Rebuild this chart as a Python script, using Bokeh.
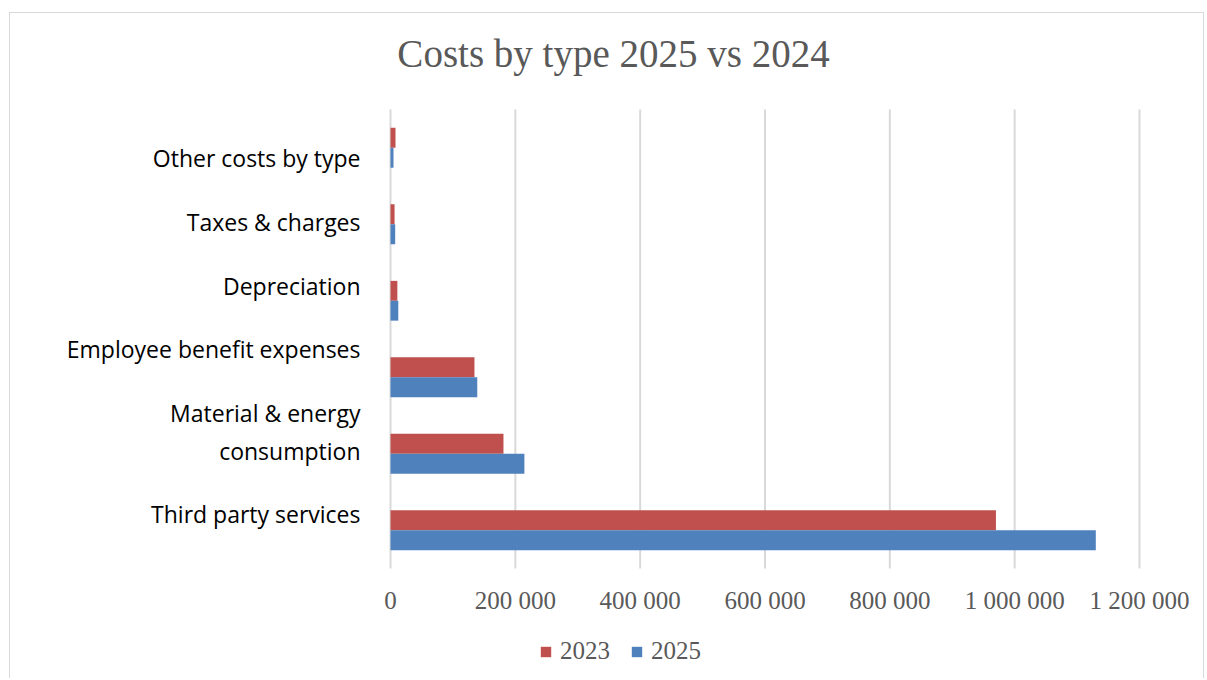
from bokeh.plotting import figure
from bokeh.models import (ColumnDataSource, Range1d, Legend, LegendItem, Label)
from bokeh.core.properties import value
from bokeh.embed import file_html
from bokeh.resources import INLINE

# data (bottom to top)
categories = ["Third party services", "Material & energy consumption", "Employee benefit expenses",
              "Depreciation", "Taxes & charges", "Other costs by type"]
display_labels = ["Third party services", "Material & energy\nconsumption", "Employee benefit expenses",
                  "Depreciation", "Taxes & charges", "Other costs by type"]
values_2023 = [970000, 181000, 134500, 11000, 6500, 8000]
values_2025 = [1130000, 214500, 139000, 12500, 7500, 4800]
series_names = ["2023", "2025"]
tick_values = [0, 200000, 400000, 600000, 800000, 1000000, 1200000]
tick_labels = ["0", "200 000", "400 000", "600 000", "800 000", "1 000 000", "1 200 000"]
chart_title = "Costs by type 2025 vs 2024"

# styling / layout (pixels)
RED = "#C0504D"
BLUE = "#4F81BD"
GRID = "#D9D9D9"
GREY_TEXT = "#595959"
CANVAS_W, CANVAS_H = 1195, 666
PLOT_L, PLOT_R = 380, 1129          # plot area, relative to canvas
PLOT_T, PLOT_B = 96, 555
X_MAX = 1200000
label_offsets_px = [16, 22, 28, 15, 2, -10]  # visual nudge of category labels
BAR_H = 0.26

n = len(categories)
px_per_x = (PLOT_R - PLOT_L) / X_MAX
px_per_y = (PLOT_B - PLOT_T) / n
x_start = -PLOT_L / px_per_x
x_end = X_MAX + (CANVAS_W - PLOT_R) / px_per_x
y_start = -(CANVAS_H - PLOT_B) / px_per_y
y_end = n + PLOT_T / px_per_y

centers = [i + 0.5 for i in range(n)]
src = ColumnDataSource(dict(cat=categories, v23=values_2023, v25=values_2025,
                            y23=[c + BAR_H / 2 for c in centers],
                            y25=[c - BAR_H / 2 for c in centers]))

p = figure(width=CANVAS_W, height=CANVAS_H, output_backend="svg", toolbar_location=None,
           x_range=Range1d(x_start, x_end), y_range=Range1d(y_start, y_end),
           min_border=0)
p.styles = {"border-top": "1px solid #D9D9D9", "border-left": "1px solid #D9D9D9",
            "border-right": "1px solid #D9D9D9", "margin-left": "9px", "margin-top": "12px"}
p.outline_line_color = None
p.xaxis.visible = False
p.yaxis.visible = False
p.xgrid.grid_line_color = None
p.ygrid.grid_line_color = None

# gridlines
gsrc = ColumnDataSource(dict(x=tick_values, y0=[0] * len(tick_values), y1=[n] * len(tick_values),
                             lab=tick_labels, ly=[-32 / px_per_y] * len(tick_values)))
p.segment(x0="x", y0="y0", x1="x", y1="y1", source=gsrc, line_color=GRID, line_width=2)

r23 = p.hbar(y="y23", right="v23", left=0, height=BAR_H,
             source=src, fill_color=RED, line_color=None)
r25 = p.hbar(y="y25", right="v25", left=0, height=BAR_H,
             source=src, fill_color=BLUE, line_color=None)

# x tick labels
p.text(x="x", y="ly", text="lab", source=gsrc, text_align="center", text_baseline="middle",
       text_font=value("Liberation Serif"), text_font_size="25px", text_color=GREY_TEXT)

# category labels
ys = [c + off / px_per_y for c, off in zip(centers, label_offsets_px)]
lsrc = ColumnDataSource(dict(x=[-30 / px_per_x] * n, y=ys, t=display_labels))
p.text(x="x", y="y", text="t", source=lsrc, text_align="right", text_baseline="middle",
       text_font=value("Open Sans"), text_font_size="23px", text_color="#000000",
       text_line_height=1.2)

# title
title = Label(x=(613 - 10 - PLOT_L) / px_per_x, y=n + (PLOT_T - 40) / px_per_y,
              text=chart_title, text_align="center", text_baseline="middle",
              text_font="Liberation Serif", text_font_size="39px", text_color=GREY_TEXT)
p.add_layout(title)

legend = Legend(items=[LegendItem(label=series_names[0], renderers=[r23]),
                       LegendItem(label=series_names[1], renderers=[r25])],
                orientation="horizontal", location=(529, 14),
                label_text_font="Liberation Serif", label_text_font_size="25px",
                label_text_color=GREY_TEXT, glyph_width=13, glyph_height=13,
                border_line_color=None, background_fill_alpha=0, spacing=20, padding=0,
                margin=0, label_standoff=8)
p.add_layout(legend, "center")

open("out.html", "w").write(file_html(p, INLINE))
